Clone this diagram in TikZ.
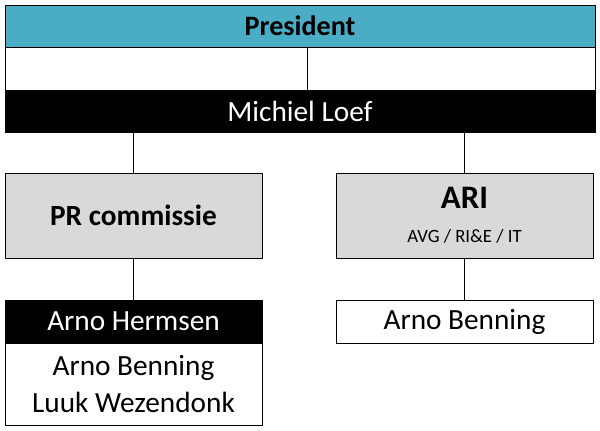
\documentclass[tikz,border=0pt]{standalone}
\usepackage{fontspec}
\setmainfont{Carlito}
\usetikzlibrary{positioning}
\definecolor{presblue}{HTML}{4BACC6}
\definecolor{boxgrey}{HTML}{D9D9D9}
\begin{document}
\begin{tikzpicture}[x=0.03cm, y=-0.03cm, line join=round]
  % styles
  \tikzset{
    bar/.style={draw, line width=0.8pt, inner sep=0pt, font=\fontsize{25}{27}\selectfont},
    headbar/.style={bar, fill=presblue, font=\fontsize{24}{26}\selectfont\bfseries},
    blackbar/.style={bar, fill=black, text=white},
    greybox/.style={bar, fill=boxgrey, minimum width=257*0.03cm, minimum height=85*0.03cm},
    namebox/.style={bar, fill=white, minimum width=257*0.03cm, minimum height=43*0.03cm},
    link/.style={line width=0.8pt}
  }
  \useasboundingbox (0,0) rectangle (600,431);

  % ----- top -----
  \node[headbar, minimum width=590*0.03cm, minimum height=42*0.03cm] (pres) at (300,26) {President};
  \node[bar, minimum width=590*0.03cm, minimum height=43*0.03cm] (gap) at (300,68.5) {};
  \node[blackbar, minimum width=590*0.03cm, minimum height=42*0.03cm] (loef) at (300,111) {Michiel Loef};
  \draw[link] (307,47) -- (307,90);

  % ----- commissies -----
  \node[greybox] (pr) at (133.5,215.5) {\bfseries PR commissie};
  \node[greybox, align=center] (ari) at (464.5,215.5)
    {{\bfseries\fontsize{28}{30}\selectfont ARI}\\[2pt]{\fontsize{16}{18}\selectfont AVG / RI\&E / IT}};
  \draw[link] (loef.south -| pr.north) -- (pr.north);
  \draw[link] (loef.south -| ari.north) -- (ari.north);

  % ----- leden -----
  \node[blackbar, minimum width=257*0.03cm, minimum height=43*0.03cm] (hermsen) at (133.5,321.5) {Arno Hermsen};
  \node[bar, minimum width=257*0.03cm, minimum height=82*0.03cm, align=center] (leden) at (133.5,384)
    {Arno Benning\\[4pt]Luuk Wezendonk};
  \node[namebox] (benning) at (464.5,321.5) {Arno Benning};
  \draw[link] (pr) -- (hermsen);
  \draw[link] (ari) -- (benning);
\end{tikzpicture}
\end{document}
